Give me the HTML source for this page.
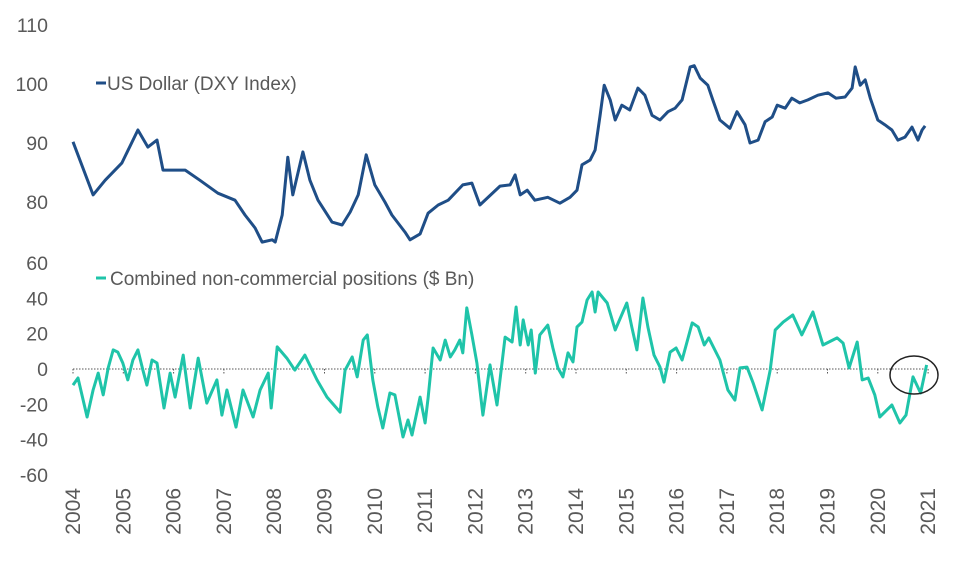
<!DOCTYPE html>
<html><head><meta charset="utf-8"><style>
html,body{margin:0;padding:0;background:#fff;}
svg{display:block;font-family:"Liberation Sans",sans-serif;}
</style></head><body>
<svg id="chart" width="958" height="563" viewBox="0 0 958 563">
<g id="axes"></g><g id="series"></g>
<ellipse cx="914" cy="375" rx="24" ry="19" fill="none" stroke="#222" stroke-width="1.5"/>
<g><line x1="96" y1="83" x2="106" y2="83" stroke="#1f4e87" stroke-width="3"/><text x="107" y="90" font-size="19" fill="#595959">US Dollar (DXY Index)</text></g>
<g><line x1="96" y1="278" x2="106" y2="278" stroke="#1fc4a9" stroke-width="3"/><text x="110" y="285" font-size="19" fill="#595959">Combined non-commercial positions ($ Bn)</text></g>
</svg>
<script>
const dxyYears=[2004.00,2004.40,2004.64,2004.97,2005.29,2005.49,2005.67,2005.79,2006.23,2006.52,2006.88,2007.22,2007.42,2007.62,2007.76,2007.96,2008.02,2008.16,2008.27,2008.37,2008.57,2008.71,2008.87,2009.15,2009.35,2009.51,2009.67,2009.83,2010.00,2010.20,2010.34,2010.60,2010.70,2010.90,2011.06,2011.26,2011.46,2011.75,2011.93,2012.09,2012.49,2012.69,2012.79,2012.89,2013.03,2013.18,2013.44,2013.68,2013.88,2014.02,2014.12,2014.28,2014.38,2014.48,2014.56,2014.68,2014.78,2014.91,2015.07,2015.23,2015.37,2015.51,2015.67,2015.83,2015.97,2016.11,2016.27,2016.35,2016.47,2016.62,2016.72,2016.86,2017.06,2017.20,2017.36,2017.46,2017.62,2017.76,2017.90,2018.00,2018.16,2018.29,2018.45,2018.61,2018.81,2019.01,2019.17,2019.35,2019.49,2019.55,2019.65,2019.75,2019.85,2020.00,2020.14,2020.28,2020.40,2020.54,2020.68,2020.80,2020.88,2020.94];
const dxyValues=[90.2,81.2,83.7,86.6,92.2,89.3,90.5,85.4,85.4,83.7,81.5,80.3,77.8,75.6,73.2,73.6,73.2,77.8,87.6,81.2,88.5,83.7,80.3,76.6,76.1,78.3,81.2,88.0,82.9,80.0,77.8,74.9,73.6,74.6,78.1,79.5,80.3,82.9,83.2,79.5,82.7,82.9,84.6,81.2,82.0,80.3,80.8,79.8,80.8,82.0,86.3,87.1,88.8,94.7,99.8,97.3,93.9,96.4,95.6,99.3,98.1,94.7,93.9,95.3,95.9,97.3,102.9,103.1,101.0,99.8,97.3,93.9,92.5,95.3,93.1,90.0,90.5,93.6,94.4,96.4,95.9,97.6,96.8,97.3,98.1,98.5,97.6,97.8,99.3,102.9,99.8,100.7,97.6,93.9,93.1,92.2,90.5,91.0,92.7,90.5,92.2,92.9];
const posYears=[2004.00,2004.10,2004.28,2004.40,2004.50,2004.60,2004.70,2004.80,2004.89,2004.99,2005.09,2005.19,2005.29,2005.39,2005.47,2005.57,2005.67,2005.81,2005.93,2006.03,2006.19,2006.33,2006.49,2006.66,2006.86,2006.96,2007.06,2007.24,2007.38,2007.58,2007.72,2007.88,2007.94,2008.06,2008.25,2008.41,2008.61,2008.85,2009.05,2009.31,2009.41,2009.55,2009.65,2009.77,2009.85,2009.96,2010.06,2010.16,2010.30,2010.40,2010.56,2010.66,2010.74,2010.90,2011.00,2011.06,2011.16,2011.30,2011.40,2011.50,2011.59,2011.69,2011.75,2011.83,2011.93,2012.03,2012.15,2012.29,2012.43,2012.59,2012.73,2012.81,2012.89,2012.95,2013.05,2013.11,2013.19,2013.28,2013.44,2013.54,2013.64,2013.74,2013.84,2013.94,2014.02,2014.12,2014.22,2014.32,2014.38,2014.44,2014.62,2014.78,2015.01,2015.11,2015.21,2015.33,2015.43,2015.55,2015.67,2015.75,2015.87,2015.99,2016.11,2016.31,2016.43,2016.55,2016.64,2016.86,2017.02,2017.16,2017.26,2017.40,2017.52,2017.70,2017.86,2017.96,2018.12,2018.31,2018.49,2018.71,2018.91,2019.19,2019.31,2019.43,2019.59,2019.69,2019.81,2019.94,2020.04,2020.28,2020.44,2020.56,2020.70,2020.85,2020.97];
const posValues=[-9.1,-5.1,-27.2,-11.9,-2.3,-14.7,0.6,10.8,9.6,3.4,-6.2,5.1,10.8,-0.6,-9.1,5.1,3.4,-22.1,-2.3,-15.9,7.9,-22.1,6.2,-19.3,-6.2,-26.1,-11.9,-32.9,-11.9,-27.2,-11.9,-2.3,-22.1,12.5,6.2,-0.6,7.9,-6.2,-15.9,-24.4,-0.6,6.8,-4.5,16.4,19.3,-6.2,-21.5,-33.4,-13.6,-14.7,-38.5,-28.9,-37.4,-15.9,-30.6,-16.4,11.9,5.1,16.4,6.8,10.8,16.4,9.1,34.6,19.3,3.4,-26.1,2.3,-20.4,18.1,15.3,35.1,13.6,27.8,13.6,22.1,-2.3,19.3,24.9,11.9,0.6,-4.5,9.1,4.0,23.8,26.6,39.1,43.6,32.3,43.6,37.4,22.1,37.4,23.8,10.8,40.2,23.8,7.9,1.1,-7.4,9.6,11.9,5.1,26.1,23.8,13.6,17.6,5.1,-11.9,-17.6,0.6,1.1,-7.9,-23.2,-0.6,22.1,26.6,30.6,19.3,32.3,13.6,17.6,14.7,0.6,15.3,-6.2,-5.1,-14.7,-27.2,-20.4,-30.6,-26.1,-4.5,-13.6,2.3];
const yearLabels=[2004,2005,2006,2007,2008,2009,2010,2011,2012,2013,2014,2015,2016,2017,2018,2019,2020,2021];
const dxyTicks=[110,100,90,80];
const posTicks=[60,40,20,0,-20,-40,-60];

const NS='http://www.w3.org/2000/svg';
const xS=y=>73+(y-2004)*50.3;
const yTop=v=>25+(110-v)*5.9;
const yBot=v=>369-v*1.765;
function mk(tag,attrs,parent){const e=document.createElementNS(NS,tag);for(const k in attrs)e.setAttribute(k,attrs[k]);parent.appendChild(e);return e;}
const axes=document.getElementById('axes'),series=document.getElementById('series');
dxyTicks.forEach(t=>{const e=mk('text',{x:48,y:yTop(t)+7,'text-anchor':'end','font-size':19.5,fill:'#595959'},axes);e.textContent=t;

});
posTicks.forEach(t=>{const e=mk('text',{x:48,y:yBot(t)+7,'text-anchor':'end','font-size':19.5,fill:'#595959'},axes);e.textContent=t;

});
const zl=mk('line',{x1:xS(2004),x2:xS(2021),y1:yBot(0),y2:yBot(0),stroke:'#555','stroke-width':1,'stroke-dasharray':'1.5 1.5'},axes);


yearLabels.forEach(yr=>{const x=xS(yr);
const tk=mk('line',{x1:x,x2:x,y1:yBot(0),y2:yBot(0)+5,stroke:'#555','stroke-width':1,'stroke-dasharray':'1.5 1.5'},axes);


const e=mk('text',{x:0,y:0,'text-anchor':'end','font-size':21,fill:'#595959',transform:`translate(${x+7},488) rotate(-90)`},axes);e.textContent=yr;

});
const dClip=v=>Math.max(v,73.2);
let d1=dxyYears.map((y,i)=>(i?'L':'M')+xS(y).toFixed(1)+','+yTop(dClip(dxyValues[i])).toFixed(1)).join('');
const p1=mk('path',{d:d1,fill:'none',stroke:'#1f4e87','stroke-width':3,'stroke-linejoin':'round'},series);


let d2=posYears.map((y,i)=>(i?'L':'M')+xS(y).toFixed(1)+','+yBot(posValues[i]).toFixed(1)).join('');
const p2=mk('path',{d:d2,fill:'none',stroke:'#1fc4a9','stroke-width':3,'stroke-linejoin':'round'},series);


</script>
</body></html>
